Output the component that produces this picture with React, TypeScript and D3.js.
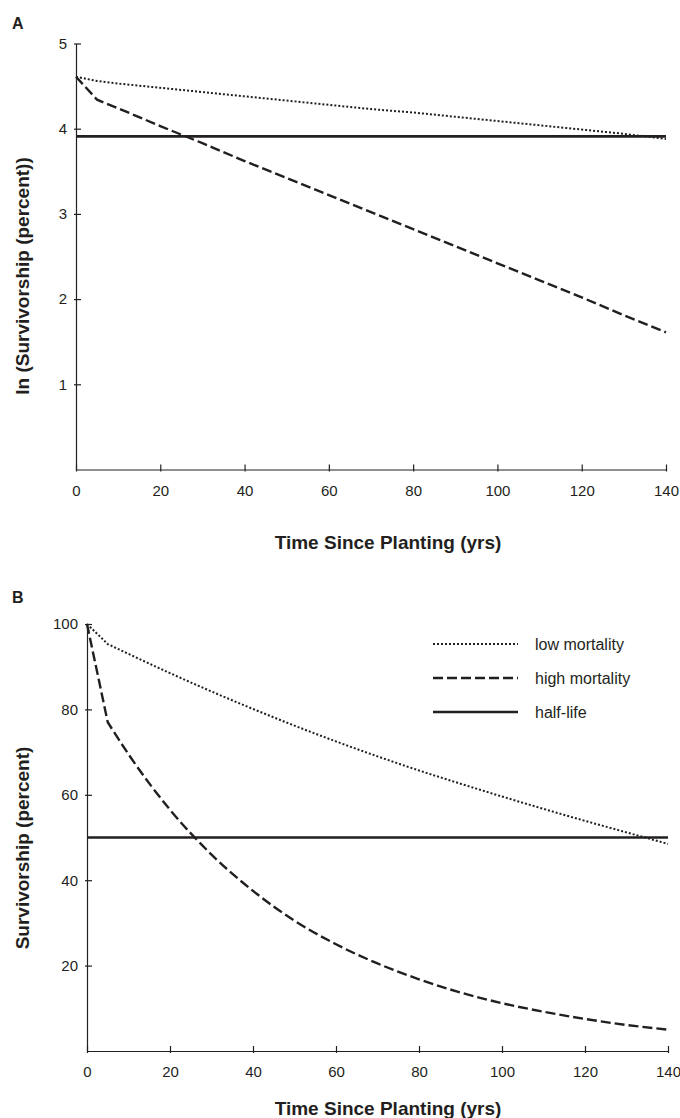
import React, { useEffect, useRef } from 'react';
import * as d3 from 'd3';

// years
const years = [0, 5, 10, 20, 30, 40, 50, 60, 70, 80, 90, 100, 110, 120, 130, 140];

// panel A: ln(survivorship %)
const lnLow = [4.61, 4.56, 4.53, 4.48, 4.43, 4.38, 4.33, 4.28, 4.23, 4.19, 4.14, 4.09, 4.04, 3.99, 3.94, 3.88];
const lnHigh = [4.61, 4.34, 4.24, 4.03, 3.83, 3.62, 3.42, 3.22, 3.02, 2.82, 2.62, 2.42, 2.22, 2.02, 1.81, 1.61];
const lnHalfLife = 3.91;

// panel B: survivorship %
const pctLow = [100, 95.3, 93, 88.5, 84.2, 80.1, 76.2, 72.5, 69, 65.7, 62.6, 59.6, 56.7, 53.9, 51.2, 48.5];
const pctHigh = [100, 77, 69.5, 56.5, 46, 37.5, 30.5, 25, 20.5, 16.8, 13.7, 11.2, 9.2, 7.5, 6.1, 5.0];
const pctHalfLife = 50;

const xTicks = [0, 20, 40, 60, 80, 100, 120, 140];
const yTicksA = [1, 2, 3, 4, 5];
const yTicksB = [20, 40, 60, 80, 100];
const legendLabels = ['low mortality', 'high mortality', 'half-life'];

const FONT = '"Liberation Sans", Arial, Helvetica, sans-serif';
const INK = '#231f20';
const styles = [
  { dash: '2,2', width: 2 },
  { dash: '10,4', width: 2.4 },
  { dash: null, width: 2.6 },
];

const App = () => {
  const svgRef = useRef<SVGSVGElement>(null);

  useEffect(() => {
    const svg = d3.select(svgRef.current);
    svg.selectAll('*').remove();

    const drawPanel = (opts) => {
      const { x, y, yTicks, series, half, title, label, labelY, xTitleY, yTitleY, smooth } = opts;
      const g = svg.append('g');
      const [x0] = x.range();
      const [yBottom] = y.range();

      // half-life line
      g.append('line')
        .attr('x1', x(0)).attr('x2', x(140)).attr('y1', y(half)).attr('y2', y(half))
        .attr('stroke', INK).attr('stroke-width', styles[2].width);

      const pts = (s: number[]) => s.map((v, i) => [x(years[i]), y(v)] as [number, number]);
      const straight = d3.line();
      const curved = d3.line().curve(d3.curveMonotoneX);
      const pathFor = (s: number[]) => {
        const p = pts(s);
        if (!smooth) return straight(p);
        // sharp break at year 5, smooth decay after it
        return straight(p.slice(0, 2)) + curved(p.slice(1)).replace(/^M/, 'L');
      };

      series.forEach((s, i) => {
        g.append('path')
          .attr('fill', 'none').attr('stroke', INK)
          .attr('stroke-width', styles[i].width)
          .attr('stroke-dasharray', styles[i].dash)
          .attr('d', pathFor(s));
      });

      // axes
      const xAxis = g.append('g').attr('transform', `translate(0,${yBottom})`)
        .call(d3.axisBottom(x).tickValues(xTicks).tickSizeOuter(0).tickFormat(d3.format('d')));
      xAxis.selectAll('.tick line').attr('y1', -5).attr('y2', 2);
      xAxis.selectAll('.tick text').attr('y', 26).attr('dy', null);

      const yAxis = g.append('g').attr('transform', `translate(${x0},0)`)
        .call(d3.axisLeft(y).tickValues(yTicks).tickSizeOuter(0).tickFormat(d3.format('d')));
      yAxis.selectAll('.tick line').attr('x1', -2).attr('x2', 5);
      yAxis.selectAll('.tick text').attr('x', -9);

      [xAxis, yAxis].forEach(a => {
        a.attr('font-family', FONT).attr('font-size', 15);
        a.selectAll('path, line').attr('stroke', INK).attr('stroke-width', 1.2);
        a.selectAll('text').attr('fill', INK);
      });

      g.append('text').attr('x', 12).attr('y', labelY)
        .attr('font-family', FONT).attr('font-weight', 'bold').attr('font-size', 16).attr('fill', INK)
        .text(label);

      g.append('text').attr('x', 388).attr('y', xTitleY).attr('text-anchor', 'middle')
        .attr('font-family', FONT).attr('font-weight', 'bold').attr('font-size', 19).attr('fill', INK)
        .text('Time Since Planting (yrs)');

      g.append('text').attr('transform', `translate(29,${yTitleY}) rotate(-90)`).attr('text-anchor', 'middle')
        .attr('font-family', FONT).attr('font-weight', 'bold').attr('font-size', 19).attr('fill', INK)
        .text(title);
      return g;
    };

    const xA = d3.scaleLinear().domain([0, 140]).range([76, 666]);
    const yA = d3.scaleLinear().domain([0, 5]).range([469.5, 43.5]);
    drawPanel({
      x: xA, y: yA, yTicks: yTicksA, series: [lnLow, lnHigh], half: lnHalfLife,
      title: 'ln (Survivorship (percent))', label: 'A', labelY: 29, xTitleY: 549, yTitleY: 276,
      smooth: false,
    });

    const xB = d3.scaleLinear().domain([0, 140]).range([87, 668]);
    const yB = d3.scaleLinear().domain([0, 100]).range([1051, 624]);
    const gB = drawPanel({
      x: xB, y: yB, yTicks: yTicksB, series: [pctLow, pctHigh], half: pctHalfLife,
      title: 'Survivorship (percent)', label: 'B', labelY: 603, xTitleY: 1115, yTitleY: 848,
      smooth: true,
    });

    // legend
    const leg = gB.append('g');
    legendLabels.forEach((t, i) => {
      const yy = 644 + i * 34;
      leg.append('line').attr('x1', 433).attr('x2', 518).attr('y1', yy).attr('y2', yy)
        .attr('stroke', INK).attr('stroke-width', styles[i].width)
        .attr('stroke-dasharray', styles[i].dash);
      leg.append('text').attr('x', 535).attr('y', yy).attr('dy', '0.35em')
        .attr('font-family', FONT).attr('font-size', 16).attr('fill', INK)
        .text(t);
    });
  }, []);

  return (
    <svg ref={svgRef} width={680} height={1118}
      style={{ position: 'absolute', left: 0, top: 0, background: '#fff' }} />
  );
};

export default App;
